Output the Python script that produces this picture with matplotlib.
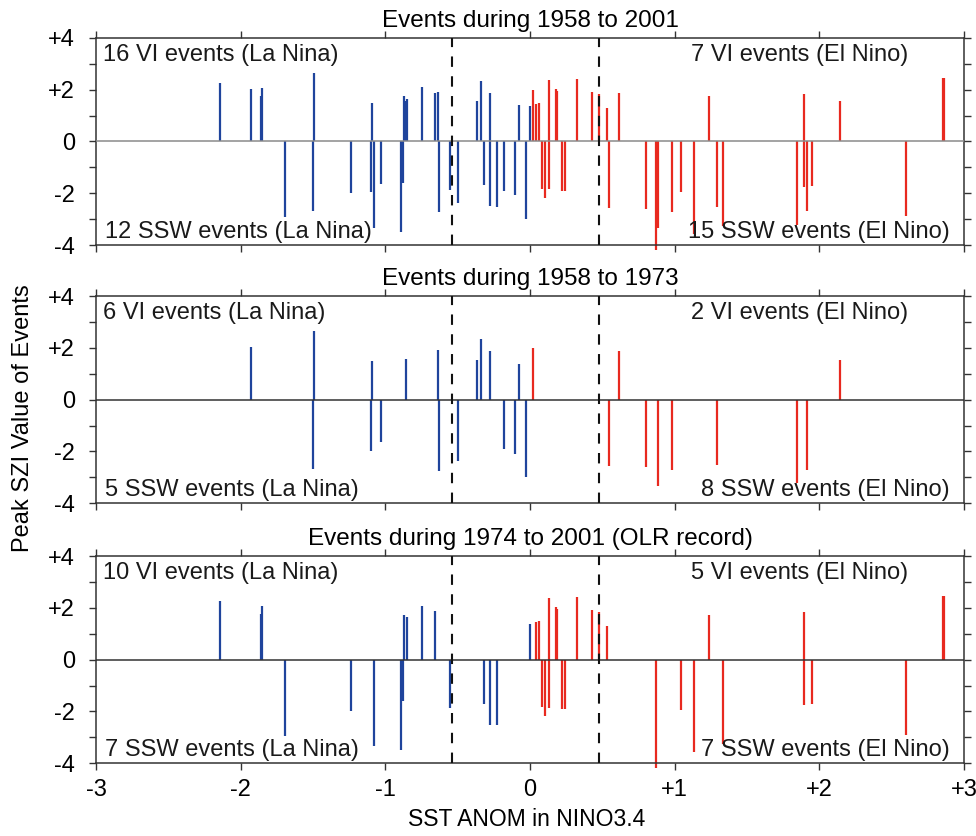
import numpy as np
import matplotlib
matplotlib.use('Agg')
import matplotlib.pyplot as plt
from matplotlib.ticker import FixedLocator, FuncFormatter

plt.rcParams['font.family'] = ['Liberation Sans', 'DejaVu Sans']

# Events 1958-1973: SST anomaly in NINO3.4 and peak SZI value
sst_early = [-1.93, -1.49, -1.50, -1.09, -1.10, -1.03, -0.86, -0.638, -0.629, -0.498,
             -0.368, -0.339, -0.279, -0.177, -0.106, -0.078, -0.028, 0.022, 0.544, 0.613,
             0.802, 0.883, 0.984, 1.295, 1.843, 1.914, 2.145]
szi_early = [2.03, 2.66, -2.68, 1.50, -1.97, -1.65, 1.58, 1.90, -2.74, -2.37,
             1.55, 2.33, 1.87, -1.90, -2.08, 1.39, -2.99, 2.00, -2.56, 1.88,
             -2.59, -3.34, -2.72, -2.53, -3.22, -2.70, 1.55]

# Events 1974-2001 (OLR record)
sst_late = [-2.142, -1.861, -1.85, -1.691, -1.239, -1.078, -0.889, -0.88, -0.871, -0.851,
            -0.749, -0.659, -0.551, -0.318, -0.279, -0.228, -0.002, 0.039, 0.062, 0.083,
            0.101, 0.131, 0.131, 0.180, 0.185, 0.221, 0.242, 0.323, 0.431, 0.48,
            0.532, 0.871, 1.044, 1.131, 1.235, 1.332, 1.896, 1.896, 1.947, 2.598,
            2.852, 2.861]
szi_late = [2.26, 1.75, 2.06, -2.93, -2.00, -3.33, -3.50, -1.59, 1.74, 1.63,
            2.09, 1.87, -1.87, -1.70, -2.51, -2.54, 1.38, 1.44, 1.48, -1.83,
            -2.19, 2.37, -1.85, 2.04, 1.96, -1.92, -1.92, 2.41, 1.91, 1.85,
            1.31, -4.19, -1.96, -3.56, 1.74, -3.26, 1.83, -1.75, -1.73, -2.89,
            2.45, 2.45]

thresholds = [-0.54, 0.48]

titles = ['Events during 1958 to 2001', 'Events during 1958 to 1973',
          'Events during 1974 to 2001 (OLR record)']
labels = [
    ['16 VI events (La Nina)', '7 VI events (El Nino)', '12 SSW events (La Nina)', '15 SSW events (El Nino)'],
    ['6 VI events (La Nina)', '2 VI events (El Nino)', '5 SSW events (La Nina)', '8 SSW events (El Nino)'],
    ['10 VI events (La Nina)', '5 VI events (El Nino)', '7 SSW events (La Nina)', '7 SSW events (El Nino)'],
]

panels = [
    (sst_early + sst_late, szi_early + szi_late),
    (sst_early, szi_early),
    (sst_late, szi_late),
]

blue = '#1f449c'
red = '#e8291f'
frame = '#333333'

fig = plt.figure(figsize=(9.76, 8.36), dpi=100)
bottoms = [0.7069, 0.398, 0.087]
zero_colors = ['#8a8a8a', '#333333', '#333333']

for i, (sst, szi) in enumerate(panels):
    ax = fig.add_axes([0.0984, bottoms[i], 0.8893, 0.2478])
    sst = np.array(sst)
    szi = np.array(szi)
    cols = [blue if s <= 0 else red for s in sst]
    ax.vlines(sst, 0, szi, colors=cols, lw=1.6, clip_on=False, zorder=2)
    ax.axhline(0, color=zero_colors[i], lw=1.1, zorder=3)
    for t in thresholds:
        ax.axvline(t, color='#111111', lw=1.5, ls=(0, (5, 4.5)), zorder=4)

    ax.set_xlim(-3, 3)
    ax.set_ylim(-4, 4)
    ax.yaxis.set_major_locator(FixedLocator([-4, -2, 0, 2, 4]))
    ax.yaxis.set_minor_locator(FixedLocator([-3, -1, 1, 3]))
    ax.xaxis.set_major_locator(FixedLocator([-3, -2, -1, 0, 1, 2, 3]))
    fmt = FuncFormatter(lambda v, p: '0' if v == 0 else ('+%d' % v if v > 0 else '-%d' % -v))
    ax.yaxis.set_major_formatter(fmt)
    ax.xaxis.set_major_formatter(fmt)
    ax.tick_params(which='both', direction='out', length=5, width=1, color=frame,
                   top=True, right=True, labelsize=17, pad=6)
    ax.tick_params(axis='y', pad=10)
    if i < 2:
        ax.tick_params(axis='x', labelbottom=False)
    for sp in ax.spines.values():
        sp.set_color(frame)
        sp.set_linewidth(1.1)

    ax.set_title(titles[i], fontsize=17.5, pad=8)
    kw = dict(transform=ax.transAxes, fontsize=17, color='#1a1a1a')
    ax.text(0.008, 0.97, labels[i][0], ha='left', va='top', **kw)
    ax.text(0.936, 0.97, labels[i][1], ha='right', va='top', **kw)
    ax.text(0.010, 0.01, labels[i][2], ha='left', va='bottom', **kw)
    ax.text(0.984, 0.01, labels[i][3], ha='right', va='bottom', **kw)

fig.text(0.024, 0.5, 'Peak SZI Value of Events', rotation=90, ha='center', va='center',
         fontsize=17)
fig.text(0.54, 0.02, 'SST ANOM in NINO3.4', ha='center', va='center', fontsize=16.5)

fig.savefig('out.png', dpi=100)
